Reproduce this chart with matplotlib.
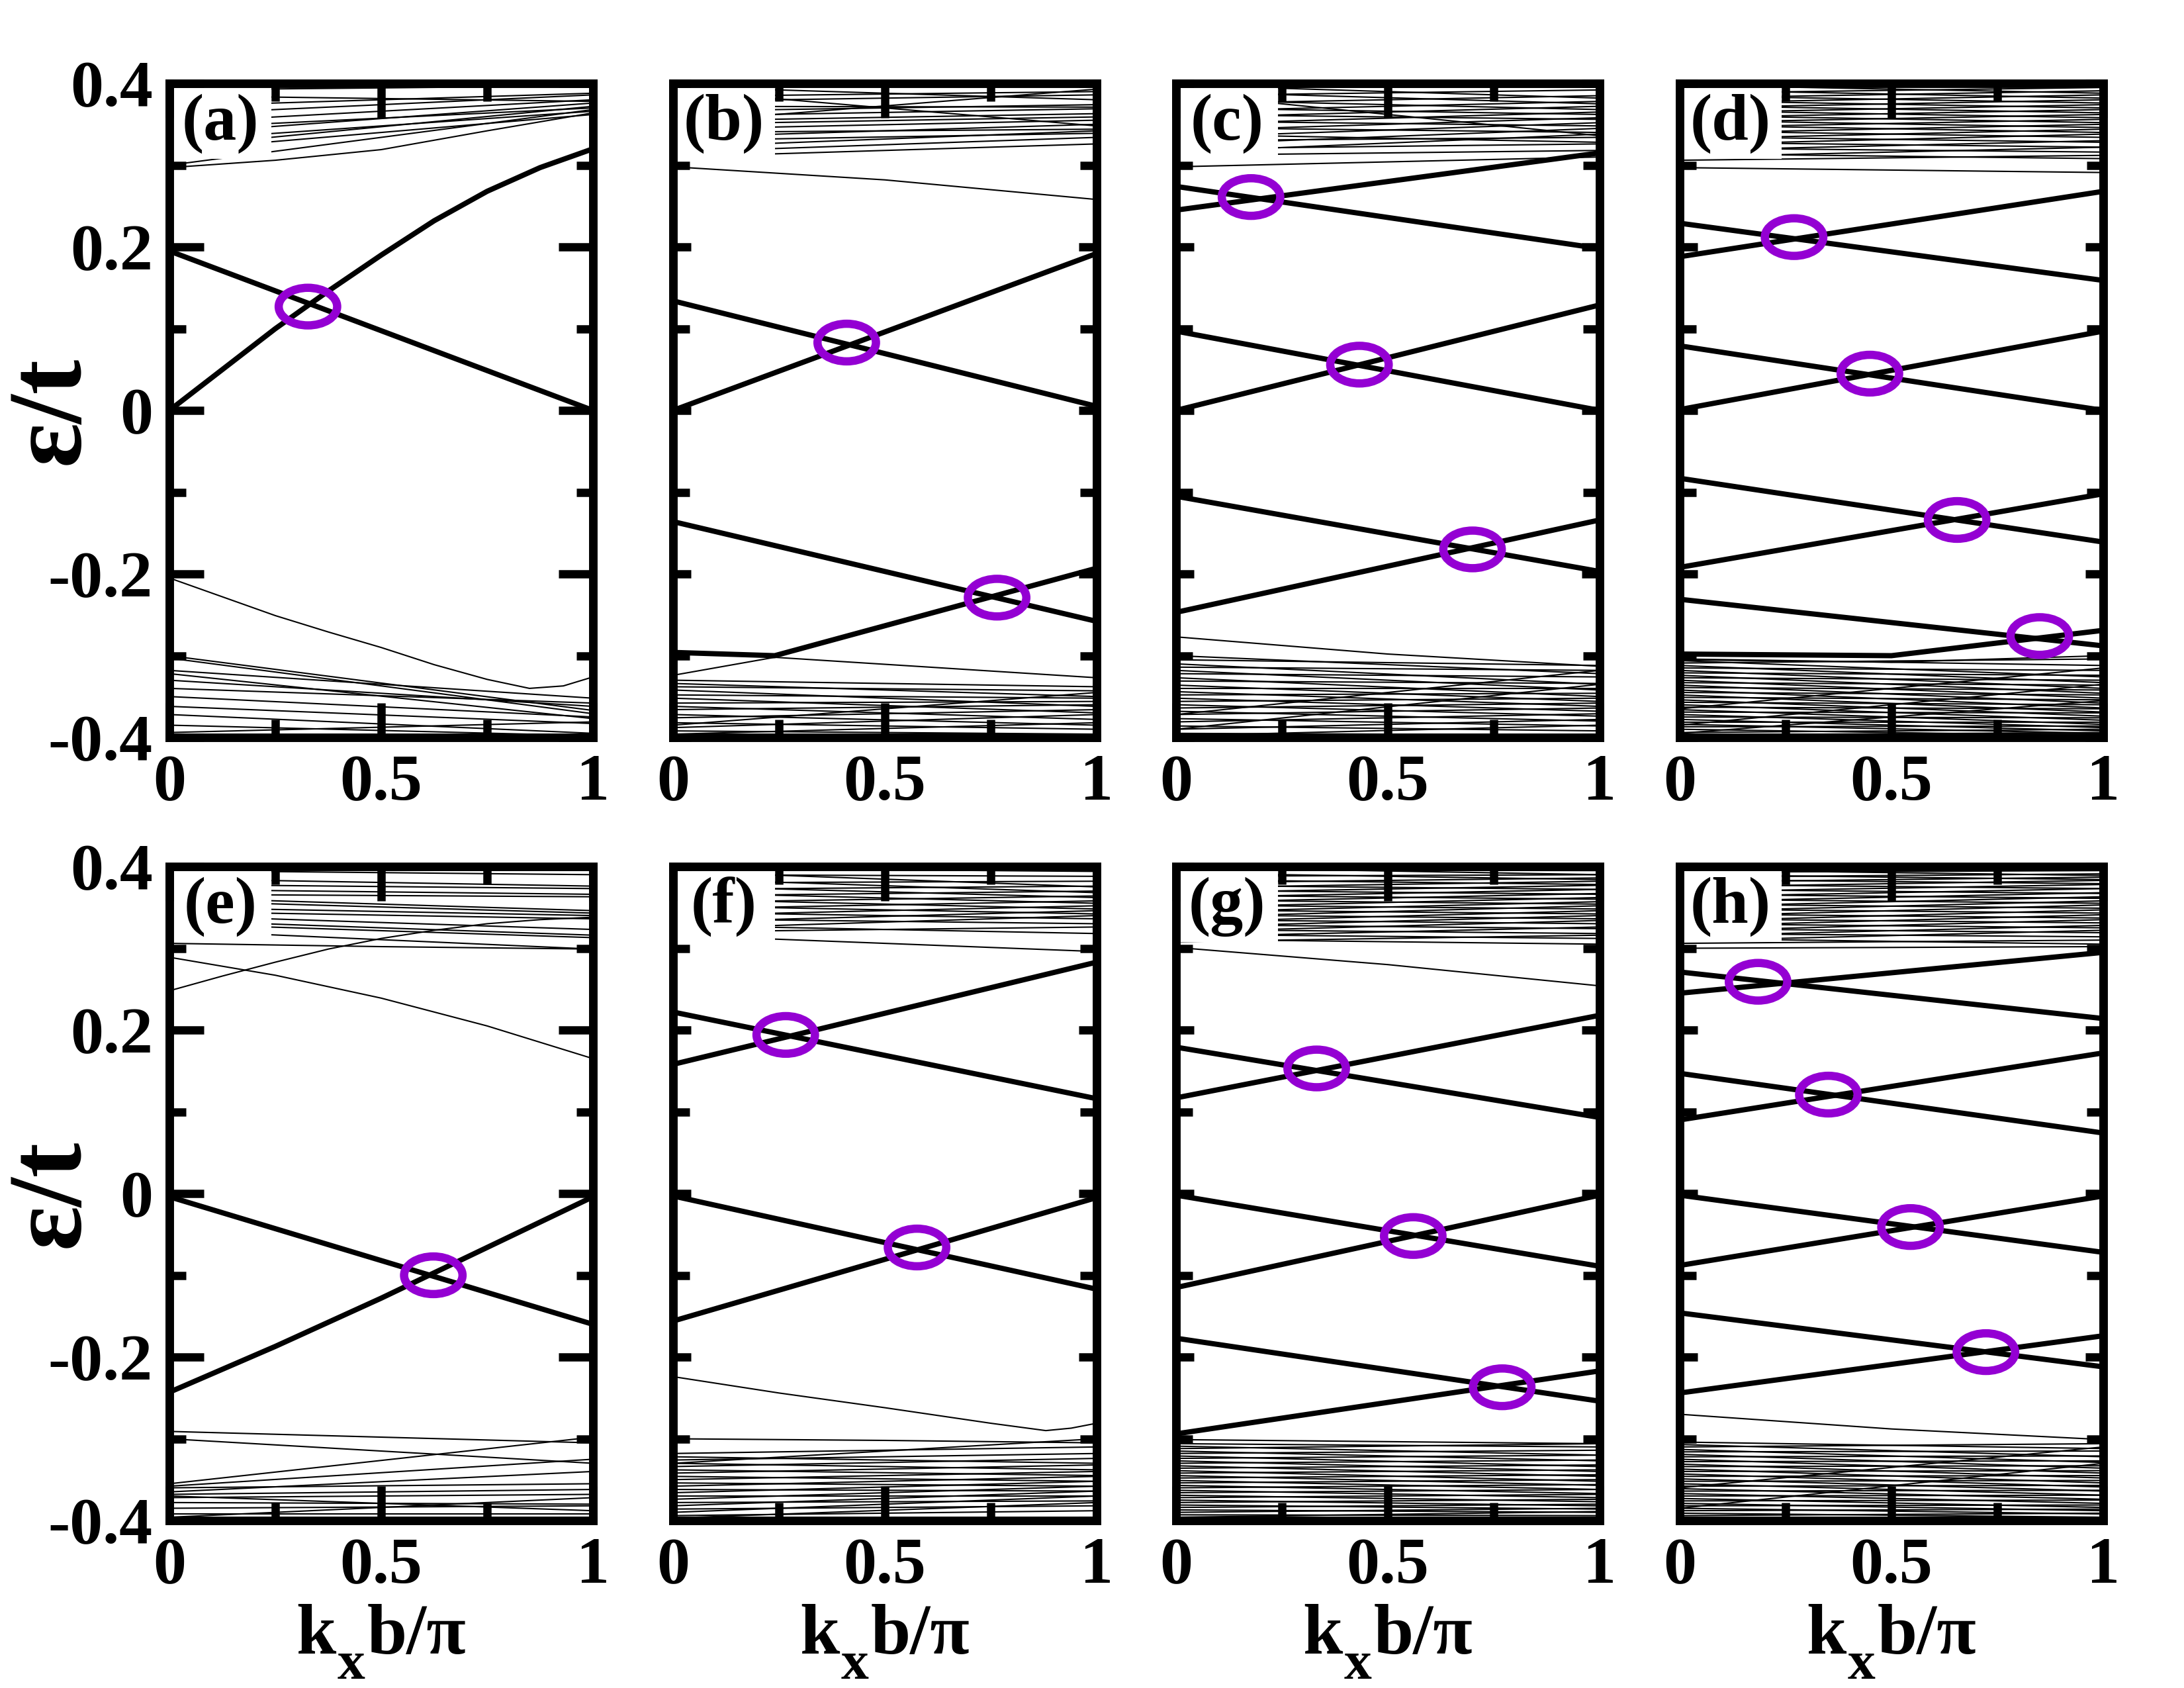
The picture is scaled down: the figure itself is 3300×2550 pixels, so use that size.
"""Edge-state band structures, panels (a)-(h), with crossing points circled."""

import matplotlib
matplotlib.use("Agg")
import matplotlib.pyplot as plt
from matplotlib.patches import Ellipse, Rectangle

plt.rcParams["font.family"] = ["Liberation Serif", "DejaVu Serif"]
plt.rcParams["font.weight"] = "bold"

PANEL_LABELS = ["(a)", "(b)", "(c)", "(d)", "(e)", "(f)", "(g)", "(h)"]
X_TICKS = [0, 0.5, 1]
X_TICKLABELS = ["0", "0.5", "1"]
X_MINOR = [0.25, 0.75]
Y_TICKS = [-0.4, -0.2, 0, 0.2, 0.4]
Y_TICKLABELS = ["-0.4", "-0.2", "0", "0.2", "0.4"]
Y_MINOR = [-0.3, -0.1, 0.1, 0.3]

# thick edge-state bands, as (k, energy) points
EDGE_A = [[(0, 0.0), (0.125, 0.05), (0.25, 0.10), (0.375, 0.146), (0.5, 0.19),
           (0.625, 0.232), (0.75, 0.268), (0.875, 0.297), (1, 0.32)],
          [(0, 0.195), (1, 0.0)]]
EDGE_B = [[(0, 0.0), (1, 0.192)], [(0, 0.134), (1, 0.005)],
          [(0, -0.136), (1, -0.258)],
          [(0, -0.296), (0.24, -0.300), (1, -0.193)]]
EDGE_C = [[(0, 0.245), (1, 0.315)], [(0, 0.274), (1, 0.198)],
          [(0, 0.0), (1, 0.129)], [(0, 0.097), (1, 0.0)],
          [(0, -0.105), (1, -0.197)], [(0, -0.247), (1, -0.134)]]
EDGE_D = [[(0, 0.188), (1, 0.268)], [(0, 0.229), (1, 0.159)],
          [(0, 0.001), (1, 0.097)], [(0, 0.079), (1, 0.0)],
          [(0, -0.192), (1, -0.102)], [(0, -0.083), (1, -0.161)],
          [(0, -0.231), (1, -0.288)],
          [(0, -0.298), (0.5, -0.300), (1, -0.269)]]
EDGE_E = [[(0, -0.004), (1, -0.160)],
          [(0, -0.243), (0.25, -0.187), (0.5, -0.128), (0.75, -0.066),
           (1, -0.004)]]
EDGE_F = [[(0, 0.158), (1, 0.283)], [(0, 0.222), (1, 0.116)],
          [(0, -0.156), (1, -0.005)], [(0, -0.003), (1, -0.117)]]
EDGE_G = [[(0, 0.117), (1, 0.218)], [(0, 0.179), (1, 0.093)],
          [(0, -0.115), (1, -0.002)], [(0, -0.002), (1, -0.089)],
          [(0, -0.177), (1, -0.254)], [(0, -0.294), (1, -0.217)]]
EDGE_H = [[(0, 0.245), (1, 0.295)], [(0, 0.271), (1, 0.214)],
          [(0, 0.090), (1, 0.172)], [(0, 0.147), (1, 0.074)],
          [(0, -0.088), (1, -0.003)], [(0, -0.002), (1, -0.072)],
          [(0, -0.244), (1, -0.174)], [(0, -0.146), (1, -0.212)]]

# thin isolated bands, as (k, energy) points
THIN_A = [[(0, -0.205), (0.125, -0.228), (0.25, -0.251), (0.375, -0.271),
           (0.5, -0.290), (0.625, -0.311), (0.75, -0.329), (0.85, -0.340),
           (0.93, -0.337), (1, -0.326)],
          [(0, 0.297), (0.25, 0.306), (0.5, 0.319), (0.75, 0.342), (1, 0.364)]]
THIN_B = [[(0, 0.298), (0.5, 0.282), (1, 0.258)],
          [(0, -0.324), (0.24, -0.302), (1, -0.327)]]
THIN_C = [[(0, -0.277), (0.5, -0.298), (1, -0.313)],
          [(0, 0.298), (0.5, 0.304), (1, 0.310)]]
THIN_D = [[(0, 0.297), (1, 0.291)],
          [(0, -0.305), (0.5, -0.308), (1, -0.300)]]
THIN_E = [[(0, 0.289), (0.25, 0.267), (0.5, 0.239), (0.75, 0.205), (1, 0.165)],
          [(0, 0.248), (0.125, 0.266), (0.25, 0.283), (0.375, 0.299),
           (0.5, 0.312), (0.625, 0.322), (0.75, 0.330), (0.875, 0.335),
           (1, 0.338)],
          [(0, 0.306), (0.5, 0.302), (1, 0.299)]]
THIN_F = [[(0, -0.224), (0.25, -0.244), (0.5, -0.262), (0.75, -0.281),
           (0.88, -0.290), (0.94, -0.287), (1, -0.281)],
          [(0, -0.300), (0.5, -0.302), (1, -0.305)],
          [(0, 0.316), (1, 0.296)]]
THIN_G = [[(0, 0.301), (0.5, 0.280), (1, 0.254)],
          [(0, -0.301), (1, -0.306)]]
THIN_H = [[(0, -0.270), (0.5, -0.288), (1, -0.301)],
          [(0, 0.300), (1, 0.302)]]

# bulk bands: (energy at k=0, energy at k=1)
UP_A = [(0.300, 0.368), (0.318, 0.362), (0.322, 0.372), (0.330, 0.366),
        (0.338, 0.376), (0.345, 0.370), (0.352, 0.380), (0.362, 0.386),
        (0.372, 0.388), (0.385, 0.378), (0.392, 0.397)]
LO_A = [(-0.300, -0.367), (-0.303, -0.371), (-0.318, -0.352), (-0.322, -0.377),
        (-0.330, -0.362), (-0.340, -0.358), (-0.350, -0.375), (-0.362, -0.383),
        (-0.372, -0.395), (-0.385, -0.398), (-0.394, -0.381)]
UP_B = [(0.310, 0.326), (0.316, 0.334), (0.322, 0.342), (0.330, 0.339),
        (0.334, 0.350), (0.340, 0.344), (0.344, 0.355), (0.350, 0.359),
        (0.354, 0.363), (0.360, 0.369), (0.366, 0.374), (0.372, 0.371),
        (0.378, 0.386), (0.384, 0.390), (0.392, 0.348), (0.352, 0.393),
        (0.396, 0.380)]
LO_B = [(-0.330, -0.338), (-0.334, -0.350), (-0.338, -0.343), (-0.342, -0.362),
        (-0.348, -0.352), (-0.352, -0.370), (-0.358, -0.356), (-0.362, -0.378),
        (-0.366, -0.360), (-0.372, -0.385), (-0.376, -0.366), (-0.382, -0.390),
        (-0.388, -0.372), (-0.392, -0.396), (-0.396, -0.382), (-0.385, -0.345)]
UP_C = [(0.312, 0.318), (0.316, 0.338), (0.320, 0.326), (0.325, 0.345),
        (0.330, 0.334), (0.334, 0.352), (0.338, 0.328), (0.342, 0.358),
        (0.346, 0.340), (0.350, 0.365), (0.354, 0.348), (0.358, 0.372),
        (0.362, 0.356), (0.366, 0.378), (0.370, 0.362), (0.375, 0.385),
        (0.380, 0.368), (0.385, 0.392), (0.390, 0.375), (0.395, 0.396),
        (0.398, 0.382), (0.388, 0.336)]
LO_C = [(-0.300, -0.322), (-0.305, -0.312), (-0.310, -0.335), (-0.314, -0.318),
        (-0.318, -0.342), (-0.322, -0.326), (-0.327, -0.350), (-0.331, -0.334),
        (-0.336, -0.356), (-0.340, -0.340), (-0.344, -0.362), (-0.348, -0.346),
        (-0.352, -0.368), (-0.356, -0.352), (-0.360, -0.374), (-0.364, -0.358),
        (-0.368, -0.380), (-0.372, -0.364), (-0.377, -0.386), (-0.381, -0.371),
        (-0.386, -0.392), (-0.390, -0.378), (-0.395, -0.397), (-0.398, -0.385),
        (-0.390, -0.335), (-0.372, -0.318)]
UP_D = [(0.306, 0.312), (0.310, 0.322), (0.314, 0.308), (0.318, 0.330),
        (0.321, 0.316), (0.325, 0.338), (0.328, 0.322), (0.332, 0.344),
        (0.335, 0.328), (0.339, 0.350), (0.342, 0.334), (0.346, 0.356),
        (0.349, 0.340), (0.352, 0.362), (0.355, 0.346), (0.358, 0.368),
        (0.361, 0.352), (0.364, 0.374), (0.367, 0.358), (0.370, 0.380),
        (0.373, 0.364), (0.376, 0.386), (0.379, 0.370), (0.382, 0.391),
        (0.385, 0.376), (0.388, 0.395), (0.392, 0.382), (0.396, 0.398),
        (0.398, 0.388)]
LO_D = [(-0.304, -0.312), (-0.306, -0.326), (-0.309, -0.304), (-0.312, -0.333),
        (-0.315, -0.318), (-0.318, -0.340), (-0.321, -0.324), (-0.324, -0.346),
        (-0.327, -0.330), (-0.330, -0.352), (-0.333, -0.336), (-0.336, -0.358),
        (-0.339, -0.342), (-0.342, -0.364), (-0.345, -0.348), (-0.348, -0.369),
        (-0.351, -0.354), (-0.354, -0.374), (-0.357, -0.360), (-0.360, -0.379),
        (-0.363, -0.365), (-0.366, -0.384), (-0.369, -0.370), (-0.372, -0.388),
        (-0.375, -0.376), (-0.378, -0.392), (-0.381, -0.381), (-0.384, -0.395),
        (-0.387, -0.386), (-0.390, -0.398), (-0.394, -0.390), (-0.397, -0.394),
        (-0.385, -0.335), (-0.365, -0.315), (-0.395, -0.355)]
UP_E = [(0.395, 0.390), (0.385, 0.376), (0.378, 0.373), (0.372, 0.366),
        (0.366, 0.363), (0.362, 0.346), (0.358, 0.343), (0.350, 0.340),
        (0.345, 0.336), (0.340, 0.323), (0.334, 0.316), (0.330, 0.313),
        (0.322, 0.299)]
LO_E = [(-0.291, -0.305), (-0.355, -0.298), (-0.300, -0.330), (-0.358, -0.325),
        (-0.365, -0.340), (-0.360, -0.355), (-0.368, -0.362), (-0.372, -0.368),
        (-0.378, -0.380), (-0.385, -0.382), (-0.392, -0.392), (-0.370, -0.388),
        (-0.396, -0.372)]
UP_F = [(0.320, 0.326), (0.324, 0.340), (0.328, 0.318), (0.332, 0.346),
        (0.336, 0.330), (0.340, 0.352), (0.344, 0.336), (0.348, 0.358),
        (0.352, 0.342), (0.356, 0.364), (0.360, 0.348), (0.364, 0.370),
        (0.368, 0.355), (0.372, 0.376), (0.376, 0.362), (0.380, 0.382),
        (0.385, 0.368), (0.390, 0.388), (0.394, 0.375), (0.398, 0.394)]
LO_F = [(-0.318, -0.310), (-0.322, -0.330), (-0.326, -0.318), (-0.330, -0.338),
        (-0.334, -0.324), (-0.338, -0.345), (-0.342, -0.332), (-0.346, -0.352),
        (-0.350, -0.340), (-0.354, -0.358), (-0.358, -0.346), (-0.362, -0.364),
        (-0.366, -0.352), (-0.370, -0.370), (-0.374, -0.358), (-0.378, -0.376),
        (-0.382, -0.364), (-0.386, -0.382), (-0.390, -0.370), (-0.394, -0.388),
        (-0.397, -0.378), (-0.330, -0.300)]
UP_G = [(0.308, 0.316), (0.311, 0.305), (0.314, 0.326), (0.317, 0.312),
        (0.320, 0.334), (0.323, 0.318), (0.326, 0.340), (0.329, 0.324),
        (0.332, 0.346), (0.335, 0.330), (0.338, 0.352), (0.341, 0.336),
        (0.344, 0.357), (0.347, 0.342), (0.350, 0.362), (0.353, 0.348),
        (0.356, 0.367), (0.359, 0.354), (0.362, 0.372), (0.365, 0.360),
        (0.368, 0.377), (0.371, 0.366), (0.374, 0.382), (0.377, 0.372),
        (0.380, 0.386), (0.384, 0.378), (0.388, 0.390), (0.392, 0.384),
        (0.396, 0.395), (0.399, 0.390)]
LO_G = [(-0.306, -0.310), (-0.309, -0.320), (-0.312, -0.306), (-0.315, -0.327),
        (-0.318, -0.314), (-0.321, -0.334), (-0.324, -0.320), (-0.327, -0.340),
        (-0.330, -0.326), (-0.333, -0.346), (-0.336, -0.332), (-0.339, -0.352),
        (-0.342, -0.338), (-0.345, -0.357), (-0.348, -0.344), (-0.351, -0.362),
        (-0.354, -0.350), (-0.357, -0.367), (-0.360, -0.356), (-0.363, -0.372),
        (-0.366, -0.362), (-0.369, -0.377), (-0.372, -0.368), (-0.375, -0.382),
        (-0.378, -0.374), (-0.381, -0.386), (-0.384, -0.380), (-0.387, -0.390),
        (-0.390, -0.385), (-0.393, -0.394), (-0.396, -0.389), (-0.399, -0.397)]
UP_H = [(0.306, 0.310), (0.309, 0.322), (0.312, 0.305), (0.315, 0.328),
        (0.318, 0.314), (0.321, 0.335), (0.324, 0.319), (0.327, 0.341),
        (0.330, 0.325), (0.333, 0.347), (0.336, 0.331), (0.339, 0.353),
        (0.342, 0.337), (0.345, 0.358), (0.348, 0.343), (0.351, 0.363),
        (0.354, 0.349), (0.357, 0.368), (0.360, 0.355), (0.363, 0.373),
        (0.366, 0.361), (0.369, 0.378), (0.372, 0.367), (0.375, 0.383),
        (0.378, 0.373), (0.381, 0.387), (0.384, 0.379), (0.387, 0.391),
        (0.390, 0.384), (0.393, 0.395), (0.396, 0.389), (0.399, 0.398)]
LO_H = [(-0.304, -0.312), (-0.307, -0.322), (-0.310, -0.306), (-0.313, -0.329),
        (-0.316, -0.315), (-0.319, -0.336), (-0.322, -0.321), (-0.325, -0.342),
        (-0.328, -0.327), (-0.331, -0.348), (-0.334, -0.333), (-0.337, -0.354),
        (-0.340, -0.339), (-0.343, -0.359), (-0.346, -0.345), (-0.349, -0.364),
        (-0.352, -0.351), (-0.355, -0.369), (-0.358, -0.357), (-0.361, -0.374),
        (-0.364, -0.363), (-0.367, -0.379), (-0.370, -0.369), (-0.373, -0.384),
        (-0.376, -0.375), (-0.379, -0.388), (-0.382, -0.381), (-0.385, -0.392),
        (-0.388, -0.386), (-0.391, -0.396), (-0.394, -0.391), (-0.397, -0.398),
        (-0.385, -0.330), (-0.360, -0.310)]

# circled crossing points (k, energy)
CROSS_A = [(0.327, 0.127)]
CROSS_B = [(0.41, 0.083), (0.765, -0.229)]
CROSS_C = [(0.177, 0.261), (0.433, 0.056), (0.70, -0.170)]
CROSS_D = [(0.27, 0.212), (0.449, 0.045), (0.655, -0.134), (0.85, -0.276)]
CROSS_E = [(0.623, -0.100)]
CROSS_F = [(0.266, 0.194), (0.576, -0.066)]
CROSS_G = [(0.332, 0.153), (0.56, -0.052), (0.77, -0.237)]
CROSS_H = [(0.185, 0.259), (0.351, 0.121), (0.545, -0.041), (0.723, -0.194)]

PANELS = [
    (EDGE_A, THIN_A, UP_A, LO_A, CROSS_A),
    (EDGE_B, THIN_B, UP_B, LO_B, CROSS_B),
    (EDGE_C, THIN_C, UP_C, LO_C, CROSS_C),
    (EDGE_D, THIN_D, UP_D, LO_D, CROSS_D),
    (EDGE_E, THIN_E, UP_E, LO_E, CROSS_E),
    (EDGE_F, THIN_F, UP_F, LO_F, CROSS_F),
    (EDGE_G, THIN_G, UP_G, LO_G, CROSS_G),
    (EDGE_H, THIN_H, UP_H, LO_H, CROSS_H),
]

PURPLE = "#9400d3"
FIG_W, FIG_H = 3300, 2550
AX_LEFT = [256, 1017, 1777, 2538]
AX_TOP = [126, 1309]
AX_W, AX_H = 640, 988


def draw_panel(ax, idx):
    edges, thins, ups, los, crosses = PANELS[idx]
    for a, b in ups + los:
        ax.plot([0, 1], [a, b], color="black", lw=0.5, zorder=2)
    for line in thins:
        k, e = zip(*line)
        ax.plot(k, e, color="black", lw=0.5, zorder=2)
    for line in edges:
        k, e = zip(*line)
        ax.plot(k, e, color="black", lw=1.9, zorder=2.2)
    for k, e in crosses:
        ax.add_patch(Ellipse((k, e), 0.138, 0.046, facecolor="none",
                             edgecolor=PURPLE, lw=3.0, zorder=4))

    ax.add_patch(Rectangle((0, 0.885), 0.24, 0.115, transform=ax.transAxes,
                           facecolor="white", edgecolor="none", zorder=3))
    ax.text(0.12, 0.938, PANEL_LABELS[idx], transform=ax.transAxes,
            ha="center", va="center", fontsize=24, fontweight="bold", zorder=5)

    ax.set_xlim(0, 1)
    ax.set_ylim(-0.4, 0.4)
    ax.set_xticks(X_TICKS)
    ax.set_xticklabels(X_TICKLABELS)
    ax.set_xticks(X_MINOR, minor=True)
    ax.set_yticks(Y_TICKS)
    ax.set_yticks(Y_MINOR, minor=True)
    first_col = idx % 4 == 0
    if first_col:
        ax.set_yticklabels(Y_TICKLABELS)
    else:
        ax.set_yticklabels([])
    ax.tick_params(which="both", direction="in", width=3.0, top=True,
                   right=True, labelsize=24, pad=6)
    ax.tick_params(axis="x", which="major", length=12.5)
    ax.tick_params(axis="x", which="minor", length=6.5)
    ax.tick_params(axis="y", which="major", length=12.5 if first_col else 6.5)
    ax.tick_params(axis="y", which="minor", length=6.0)
    for lab in ax.get_xticklabels() + ax.get_yticklabels():
        lab.set_fontweight("bold")
    for sp in ax.spines.values():
        sp.set_linewidth(3.1)
        sp.set_zorder(10)
    ax.xaxis.set_zorder(10)
    ax.yaxis.set_zorder(10)


def kx_label(fig, x_center_px, baseline_px):
    """k_x b/pi with a large, low subscript, laid out piece by piece."""
    renderer = fig.canvas.get_renderer()
    pieces = [("k", 26, 0, 2), ("x", 20, 38, 3), ("b/π", 26, 0, 0)]
    texts, widths = [], []
    for s, size, drop, gap in pieces:
        t = fig.text(0, 1 - (baseline_px + drop) / FIG_H, s, fontsize=size,
                     fontweight="bold", ha="left", va="baseline")
        texts.append(t)
        widths.append(t.get_window_extent(renderer).width + gap)
    x = x_center_px - sum(widths) / 2
    for t, w in zip(texts, widths):
        t.set_x(x / FIG_W)
        x += w


fig = plt.figure(figsize=(11, 8.5), dpi=300)
for idx in range(8):
    row, col = divmod(idx, 4)
    left = AX_LEFT[col] / FIG_W
    bottom = 1 - (AX_TOP[row] + AX_H) / FIG_H
    ax = fig.add_axes([left, bottom, AX_W / FIG_W, AX_H / FIG_H])
    draw_panel(ax, idx)
    if row == 1:
        kx_label(fig, AX_LEFT[col] + AX_W / 2, 2498)

for row in range(2):
    yc = 1 - (AX_TOP[row] + AX_H / 2) / FIG_H
    fig.text(80 / FIG_W, yc, "ε/t", rotation=90, ha="center", va="center",
             fontsize=38, fontweight="bold")

fig.savefig("out.png", dpi=300)
plt.close(fig)
